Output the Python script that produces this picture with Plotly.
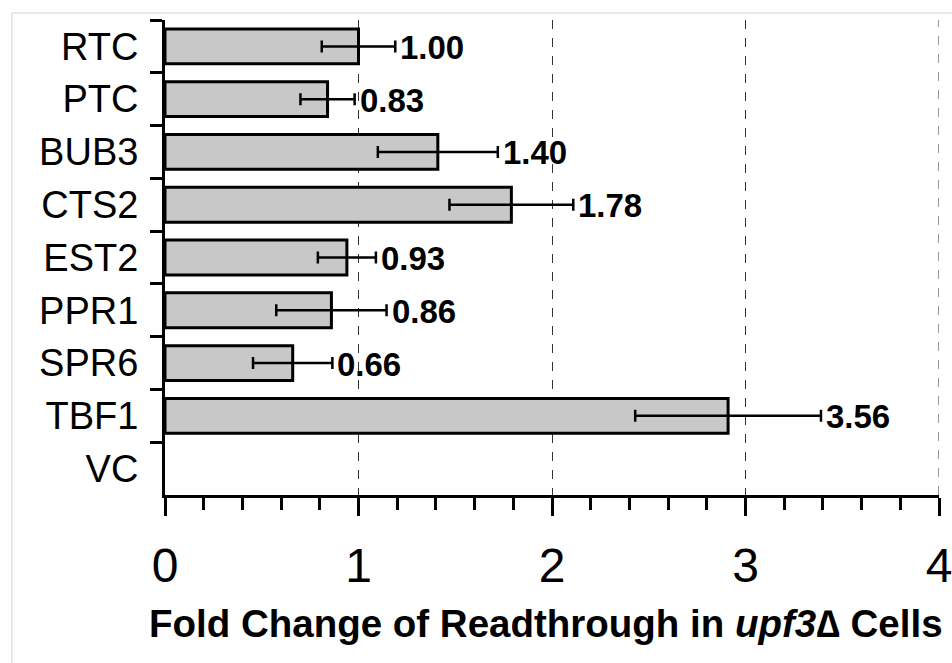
import plotly.graph_objects as go

categories = ["RTC", "PTC", "BUB3", "CTS2", "EST2", "PPR1", "SPR6", "TBF1", "VC"]
values = [1.00, 0.84, 1.41, 1.79, 0.94, 0.86, 0.66, 2.91, None]
errors = [0.19, 0.14, 0.31, 0.32, 0.15, 0.285, 0.205, 0.48, None]
labels = ["1.00", "0.83", "1.40", "1.78", "0.93", "0.86", "0.66", "3.56", ""]
x_ticks = [0, 1, 2, 3, 4]
x_title = "<b>Fold Change of Readthrough in <i>upf3</i>∆ Cells</b>"

FONT = "Liberation Sans, Arial, sans-serif"

fig = go.Figure()
fig.add_trace(go.Bar(
    y=categories, x=values, orientation="h", width=0.66,
    marker=dict(color="#c8c8c8", line=dict(color="black", width=3)),
    error_x=dict(type="data", array=errors, visible=True, color="black",
                 thickness=2.5, width=6),
    hoverinfo="skip", showlegend=False,
))

for c, v, e, t in zip(categories, values, errors, labels):
    if v is None:
        continue
    fig.add_annotation(x=v + e, y=c, text=f"<b>{t}</b>", showarrow=False,
                       xanchor="left", xshift=3, yshift=-1,
                       font=dict(family=FONT, size=33, color="black"))

# axis title placed as an annotation for exact positioning
fig.add_annotation(x=0.5, y=-0.27, xref="paper", yref="paper",
                   text=x_title, showarrow=False, xanchor="center",
                   yanchor="middle", xshift=-6,
                   font=dict(family=FONT, size=38.5, color="black"))

# dashed gridline at the last tick (plotly omits gridlines at the range edge)
fig.add_shape(type="line", xref="x", yref="paper",
              x0=x_ticks[-1], x1=x_ticks[-1], y0=0, y1=1,
              line=dict(color="#333333", width=1, dash="dash"))

# light frame around the picture
fig.add_shape(type="line", xref="paper", yref="paper",
              x0=-0.198, x1=1.1, y0=1.0147, y1=1.0147,
              line=dict(color="#e2e2e2", width=1.5))
fig.add_shape(type="line", xref="paper", yref="paper",
              x0=-0.198, x1=-0.198, y0=1.0147, y1=-0.5,
              line=dict(color="#e2e2e2", width=1.5))

fig.update_layout(
    width=952, height=663,
    margin=dict(l=164.5, r=13, t=20, b=168, autoexpand=False),
    paper_bgcolor="white", plot_bgcolor="white",
    font=dict(family=FONT, color="black"),
)
fig.update_xaxes(
    range=[0, 4], tickvals=x_ticks, ticktext=[str(t) for t in x_ticks],
    automargin=False,
    showline=True, linecolor="black", linewidth=3,
    ticks="outside", ticklen=18, tickwidth=3, tickcolor="black",
    minor=dict(dtick=0.2, ticks="outside", ticklen=12, tickwidth=3,
               tickcolor="black", showgrid=False),
    showgrid=True, gridcolor="#333333", gridwidth=1, griddash="dash",
    zeroline=False,
    tickfont=dict(family=FONT, size=48, color="black"),
    ticklabelstandoff=8, ticklabeloverflow="allow",
)
fig.update_yaxes(
    categoryorder="array", categoryarray=categories, autorange="reversed",
    automargin=False,
    showline=True, linecolor="black", linewidth=3,
    ticks="outside", tickson="boundaries", ticklen=12, tickwidth=3,
    tickcolor="black", showgrid=False, zeroline=False,
    tickfont=dict(family=FONT, size=38, color="black"),
    ticklabelstandoff=16,
)

fig.write_html("out.html")
